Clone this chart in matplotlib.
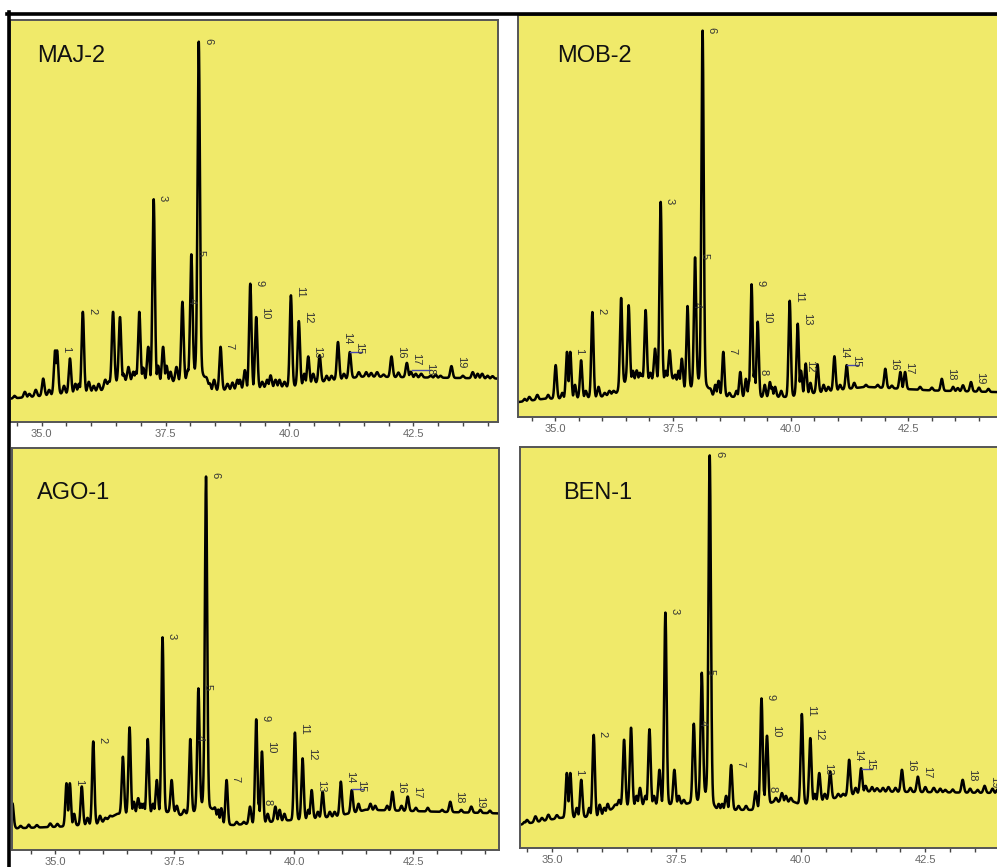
import numpy as np
import matplotlib
matplotlib.use("Agg")
import matplotlib.pyplot as plt
from matplotlib.lines import Line2D
from matplotlib.ticker import MultipleLocator, FormatStrFormatter

plt.rcParams['font.family'] = ['Liberation Sans', 'DejaVu Sans']

# ---------------- data (retention time in min, intensity in % of panel height) -------------
panel_names = ["MAJ-2", "MOB-2", "AGO-1", "BEN-1"]

# baseline knots
maj2_base_t = [34.36, 35.0, 35.3, 36.2, 36.4, 37.0, 37.6, 37.9, 38.1, 38.25, 38.42, 39.5, 40.0, 40.9, 41.5, 44.21]
maj2_base_y = [5.8, 6.5, 7.0, 7.8, 10.0, 10.5, 10.0, 10.5, 13.0, 12.0, 7.8, 8.6, 8.8, 10.5, 11.3, 10.8]
# peaks: apex time, apex height, label
maj2_peak_t = [34.66, 34.88, 35.03, 35.27, 35.31, 35.57, 35.68, 35.83, 35.95, 36.15, 36.28,
               36.44, 36.58, 36.75, 36.85, 36.97, 37.15, 37.26, 37.45, 37.52, 37.72, 37.84,
               38.02, 38.17, 38.33, 38.48, 38.61, 38.75, 38.95, 39.10, 39.21, 39.33, 39.55,
               39.62, 39.72, 40.03, 40.19, 40.38, 40.48, 40.61, 40.98, 41.22, 41.40, 41.77,
               41.90, 42.06, 42.37, 42.45, 42.66, 42.85, 43.27, 43.70, 43.89]
maj2_peak_h = [7.5, 8.0, 10.8, 17.8, 17.8, 15.8, 9.5, 27.4, 10.0, 9.5, 10.5,
               27.4, 26.1, 13.7, 12.5, 27.4, 18.7, 55.4, 18.7, 14.0, 13.7, 29.9,
               41.7, 94.6, 11.0, 10.5, 18.7, 9.5, 10.5, 12.9, 34.4, 26.1, 10.5,
               11.6, 10.5, 31.5, 25.1, 16.3, 12.0, 16.6, 19.9, 17.4, 12.4, 12.4,
               11.8, 16.3, 14.7, 12.5, 12.0, 11.5, 13.9, 12.4, 12.0]
maj2_peak_lab = ["", "", "", "", "1", "", "", "2", "", "", "",
                 "", "", "", "", "", "", "3", "", "", "", "4",
                 "5", "6", "", "", "7", "", "", "", "9", "10", "",
                 "", "", "11", "12", "13", "", "", "14", "15", "", "",
                 "", "16", "17", "", "18", "", "19", "", ""]
maj2_minor_t = [34.45, 34.55, 34.75, 35.15, 35.45, 35.75, 36.05, 36.35, 36.65, 36.9, 37.05,
                37.35, 37.6, 37.95, 38.4, 38.85, 39.0, 39.45, 39.8, 39.9, 40.3, 40.75,
                40.85, 41.1, 41.55, 41.65, 42.2, 42.55, 42.95, 43.05, 43.5, 43.8, 44.0, 44.1]
maj2_minor_h = [6.5, 6.0, 7.0, 8.0, 9.0, 9.5, 9.0, 10.0, 12.0, 12.5, 13.5,
                14.0, 12.5, 13.0, 9.5, 9.8, 10.5, 10.0, 10.5, 10.0, 12.0, 11.5,
                11.5, 12.0, 12.4, 12.2, 12.3, 12.0, 11.8, 11.5, 11.5, 12.0, 11.5, 11.4]
maj2_mark = [(41.22, 41.47, 17.4), (42.47, 42.83, 12.9)]

mob2_base_t = [34.21, 34.75, 35.96, 36.3, 36.5, 37.5, 37.8, 38.1, 38.35, 38.8, 39.9, 40.9, 41.6, 43.0, 44.38]
mob2_base_y = [3.7, 4.5, 5.0, 6.0, 9.0, 9.5, 6.5, 10.0, 5.4, 5.0, 5.0, 6.6, 7.5, 6.6, 6.2]
mob2_peak_t = [34.45, 34.62, 35.01, 35.25, 35.32, 35.55, 35.79, 35.92, 36.24, 36.40, 36.56,
               36.73, 36.84, 36.92, 37.12, 37.24, 37.43, 37.69, 37.81, 37.97, 38.13, 38.47,
               38.57, 38.93, 39.05, 39.17, 39.23, 39.30, 39.56, 39.67, 39.98, 40.15, 40.22,
               40.32, 40.57, 40.93, 41.19, 41.48, 41.72, 42.01, 42.33, 42.43, 42.61, 42.85,
               43.21, 43.66, 43.83]
mob2_peak_h = [5.0, 5.5, 12.9, 16.2, 16.2, 14.1, 26.1, 7.5, 6.5, 29.6, 27.8,
               11.6, 10.5, 26.6, 17.0, 53.5, 16.6, 14.5, 27.6, 39.7, 96.1, 9.0,
               16.2, 11.2, 9.5, 33.0, 11.0, 23.7, 8.7, 7.5, 28.9, 23.2, 11.5,
               13.3, 13.1, 15.1, 12.9, 7.0, 7.3, 12.0, 11.2, 11.2, 6.8, 6.5,
               9.5, 7.9, 8.7]
mob2_peak_lab = ["", "", "", "", "1", "", "2", "", "", "", "",
                 "", "", "", "", "3", "", "", "4", "5", "6", "",
                 "7", "", "", "9", "8", "10", "", "", "11", "13", "12",
                 "", "", "14", "15", "", "", "16", "17", "", "", "",
                 "18", "", "19"]
mob2_minor_t = [34.35, 34.85, 35.15, 35.42, 35.65, 36.05, 36.15, 36.65, 36.8, 37.02, 37.35,
                37.55, 37.62, 38.3, 38.4, 38.7, 38.85, 39.12, 39.45, 39.6, 39.8, 40.42,
                40.7, 40.8, 41.05, 41.35, 41.6, 41.85, 42.15, 42.75, 43.0, 43.45, 43.55,
                44.0, 44.2]
mob2_minor_h = [4.5, 5.5, 6.0, 8.0, 6.5, 6.0, 6.5, 11.5, 11.0, 11.0, 11.5,
                10.5, 11.5, 7.0, 8.0, 6.0, 6.5, 9.0, 8.0, 7.5, 6.5, 8.5,
                8.0, 7.5, 8.0, 8.5, 8.0, 8.0, 7.8, 7.5, 7.3, 7.5, 7.2,
                7.3, 7.0]
mob2_mark = [(41.19, 41.44, 13.0)]

ago1_base_t = [34.10, 34.2, 35.1, 35.94, 36.3, 37.5, 37.62, 37.9, 38.1, 38.31, 38.45, 38.73, 40.0, 40.83, 41.52, 44.29]
ago1_base_y = [6.0, 5.4, 5.8, 6.6, 9.0, 9.5, 8.7, 9.5, 12.0, 10.0, 6.5, 6.2, 7.5, 8.3, 10.0, 9.1]
ago1_peak_t = [34.11, 34.28, 34.62, 34.90, 35.24, 35.31, 35.56, 35.80, 35.94, 36.26, 36.42,
               36.56, 36.74, 36.85, 36.94, 37.13, 37.25, 37.44, 37.83, 38.00, 38.16, 38.48,
               38.59, 39.08, 39.21, 39.26, 39.33, 39.61, 40.02, 40.18, 40.37, 40.60, 40.98,
               41.21, 41.49, 41.77, 42.06, 42.38, 42.68, 42.92, 43.27, 43.71]
ago1_peak_h = [11.6, 6.0, 6.2, 6.6, 16.6, 16.6, 15.8, 27.0, 8.5, 8.5, 23.2,
               30.5, 12.9, 11.5, 27.6, 17.4, 52.9, 17.4, 27.6, 40.2, 92.9, 10.4,
               17.4, 10.8, 32.5, 11.6, 24.5, 10.8, 29.2, 22.8, 14.9, 14.5, 17.0,
               14.9, 10.0, 9.9, 14.5, 13.3, 9.5, 9.5, 12.0, 10.8]
ago1_peak_lab = ["", "", "", "", "", "1", "", "2", "", "", "",
                 "", "", "", "", "", "3", "", "4", "5", "6", "",
                 "7", "", "9", "8", "10", "", "11", "12", "13", "", "14",
                 "15", "", "", "16", "17", "", "", "18", "19"]
ago1_minor_t = [34.45, 35.05, 35.4, 35.68, 36.05, 36.15, 36.65, 36.8, 37.05, 37.55, 37.7,
                38.35, 38.42, 38.8, 38.95, 39.45, 39.7, 39.8, 40.3, 40.5, 40.75, 40.85,
                41.35, 41.6, 41.7, 41.95, 42.25, 42.55, 42.8, 43.1, 43.5, 43.9, 44.1]
ago1_minor_h = [6.3, 6.5, 9.0, 8.0, 8.0, 8.5, 12.0, 11.5, 11.5, 11.0, 10.0,
                10.5, 10.0, 7.0, 7.0, 9.0, 10.0, 9.0, 10.0, 9.5, 9.5, 9.5,
                11.5, 11.5, 11.0, 11.0, 11.0, 10.5, 10.5, 10.0, 10.0, 10.0, 9.8]
ago1_mark = [(41.21, 41.45, 15.2)]

ben1_base_t = [34.36, 35.17, 35.97, 36.3, 37.5, 37.7, 37.95, 38.1, 38.32, 38.65, 39.05, 39.45, 39.86, 40.0, 40.66, 41.33, 44.05]
ben1_base_y = [5.8, 7.5, 7.9, 10.5, 11.0, 11.0, 12.0, 14.0, 9.5, 9.5, 9.5, 11.5, 11.5, 10.8, 12.4, 14.1, 13.7]
ben1_peak_t = [34.50, 34.67, 34.93, 35.30, 35.37, 35.59, 35.84, 35.96, 36.27, 36.45, 36.59,
               36.77, 36.88, 36.96, 37.16, 37.28, 37.46, 37.85, 38.01, 38.17, 38.50, 38.60,
               39.09, 39.21, 39.25, 39.32, 39.62, 40.02, 40.19, 40.37, 40.59, 40.97, 41.21,
               41.53, 41.76, 42.03, 42.35, 42.67, 42.90, 43.25, 43.69]
ben1_peak_h = [7.0, 7.9, 8.3, 18.7, 18.7, 17.0, 28.2, 10.8, 10.8, 27.0, 30.0,
               15.0, 13.0, 29.6, 19.5, 58.7, 19.5, 31.0, 43.7, 97.9, 13.0, 20.7,
               14.1, 37.3, 14.5, 28.0, 13.7, 33.4, 27.4, 18.7, 19.1, 22.0, 19.9,
               14.9, 15.2, 19.5, 17.8, 15.0, 14.5, 17.0, 15.5]
ben1_peak_lab = ["", "", "", "", "1", "", "2", "", "", "", "",
                 "", "", "", "", "3", "", "4", "5", "6", "", "7",
                 "", "9", "8", "10", "", "11", "12", "13", "", "14", "15",
                 "", "", "16", "17", "", "", "18", "19"]
ben1_minor_t = [34.45, 34.8, 35.1, 35.5, 35.75, 36.05, 36.12, 36.35, 36.7, 37.05, 37.55,
                37.65, 38.35, 38.42, 38.75, 38.9, 39.5, 39.7, 39.8, 40.28, 40.48, 40.75,
                40.85, 41.1, 41.3, 41.43, 41.65, 41.9, 42.2, 42.5, 42.8, 43.05, 43.4,
                43.55, 43.85, 43.95]
ben1_minor_h = [6.5, 7.5, 8.2, 10.0, 10.0, 10.0, 11.0, 12.0, 13.0, 13.0, 13.0,
                12.0, 11.0, 11.0, 10.5, 10.5, 12.5, 13.0, 12.5, 13.5, 13.5, 13.5,
                13.5, 15.0, 15.5, 15.2, 15.0, 15.0, 15.0, 15.2, 14.8, 14.6, 14.8,
                14.5, 14.8, 14.6]
ben1_mark = [(41.23, 41.43, 19.8)]

major_ticks = [35.0, 37.5, 40.0, 42.5]

# ---------------- layout (pixels) ----------------
W, H = 997, 867
fig = plt.figure(figsize=(W / 100, H / 100), dpi=100)
fig.patch.set_facecolor("white")

YELLOW = "#F0EA6A"
SIGMA = 0.024
SIGMA_MINOR = 0.022

panels = [
    dict(name=panel_names[0], box=(10, 20, 498, 422), xlim=(34.36, 44.21),
         bt=maj2_base_t, by=maj2_base_y, pt=maj2_peak_t, ph=maj2_peak_h, pl=maj2_peak_lab,
         mt=maj2_minor_t, mh=maj2_minor_h, mark=maj2_mark, title=(37, 62)),
    dict(name=panel_names[1], box=(518, 15, 1003, 417), xlim=(34.21, 44.51),
         bt=mob2_base_t, by=mob2_base_y, pt=mob2_peak_t, ph=mob2_peak_h, pl=mob2_peak_lab,
         mt=mob2_minor_t, mh=mob2_minor_h, mark=mob2_mark, title=(557, 62)),
    dict(name=panel_names[2], box=(12, 448, 499, 850), xlim=(34.10, 44.29),
         bt=ago1_base_t, by=ago1_base_y, pt=ago1_peak_t, ph=ago1_peak_h, pl=ago1_peak_lab,
         mt=ago1_minor_t, mh=ago1_minor_h, mark=ago1_mark, title=(37, 499)),
    dict(name=panel_names[3], box=(520, 447, 1003, 848), xlim=(34.36, 44.06),
         bt=ben1_base_t, by=ben1_base_y, pt=ben1_peak_t, ph=ben1_peak_h, pl=ben1_peak_lab,
         mt=ben1_minor_t, mh=ben1_minor_h, mark=ben1_mark, title=(563, 499)),
]

for p in panels:
    l, t, r, b = p["box"]
    ax = fig.add_axes([l / W, 1 - b / H, (r - l) / W, (b - t) / H])
    ax.set_facecolor(YELLOW)
    x0, x1 = p["xlim"]
    tt = np.arange(x0, x1, 0.002)
    base = np.interp(tt, p["bt"], p["by"])
    env = np.zeros_like(tt)
    for ts, hs, sg in ((p["pt"], p["ph"], SIGMA), (p["mt"], p["mh"], SIGMA_MINOR)):
        ts = np.array(ts); hs = np.array(hs)
        amp = np.clip(hs - np.interp(ts, p["bt"], p["by"]), 0, None)
        for tc, a in zip(ts, amp):
            env = np.maximum(env, a * np.exp(-0.5 * ((tt - tc) / sg) ** 2))
    ax.plot(tt, base + env, color="black", lw=1.8, solid_joinstyle="round")

    for tc, hv, lab in zip(p["pt"], p["ph"], p["pl"]):
        if lab:
            ax.annotate(lab, xy=(tc, hv), xytext=(3, -1.5), textcoords="offset points",
                        rotation=270, ha="left", va="bottom", fontsize=8, color="#333333")
    for m0, m1, my in p["mark"]:
        ax.plot([m0, m1], [my, my], color="#4848b0", lw=1.0)

    ax.set_xlim(x0, x1)
    ax.set_ylim(0, 100)
    ax.set_yticks([])
    ax.set_xticks(major_ticks)
    ax.xaxis.set_minor_locator(MultipleLocator(0.5))
    ax.xaxis.set_major_formatter(FormatStrFormatter("%.1f"))
    ax.tick_params(axis="x", which="both", direction="out", length=3, width=1.0,
                   color="#444444", labelcolor="#666666", labelsize=8, pad=2)
    for s in ax.spines.values():
        s.set_color("#555555")
        s.set_linewidth(1.4)

    tx, ty = p["title"]
    fig.text(tx / W, 1 - ty / H, p["name"], fontsize=17, color="#111111",
             ha="left", va="baseline")

# black frame lines at top and left
fig.add_artist(Line2D([7 / W, 1.0], [1 - 13.5 / H, 1 - 13.5 / H], color="black", lw=2.6))
fig.add_artist(Line2D([8.5 / W, 8.5 / W], [0, 1 - 12 / H], color="black", lw=2.6))

fig.savefig("out.png", dpi=100, facecolor="white")
